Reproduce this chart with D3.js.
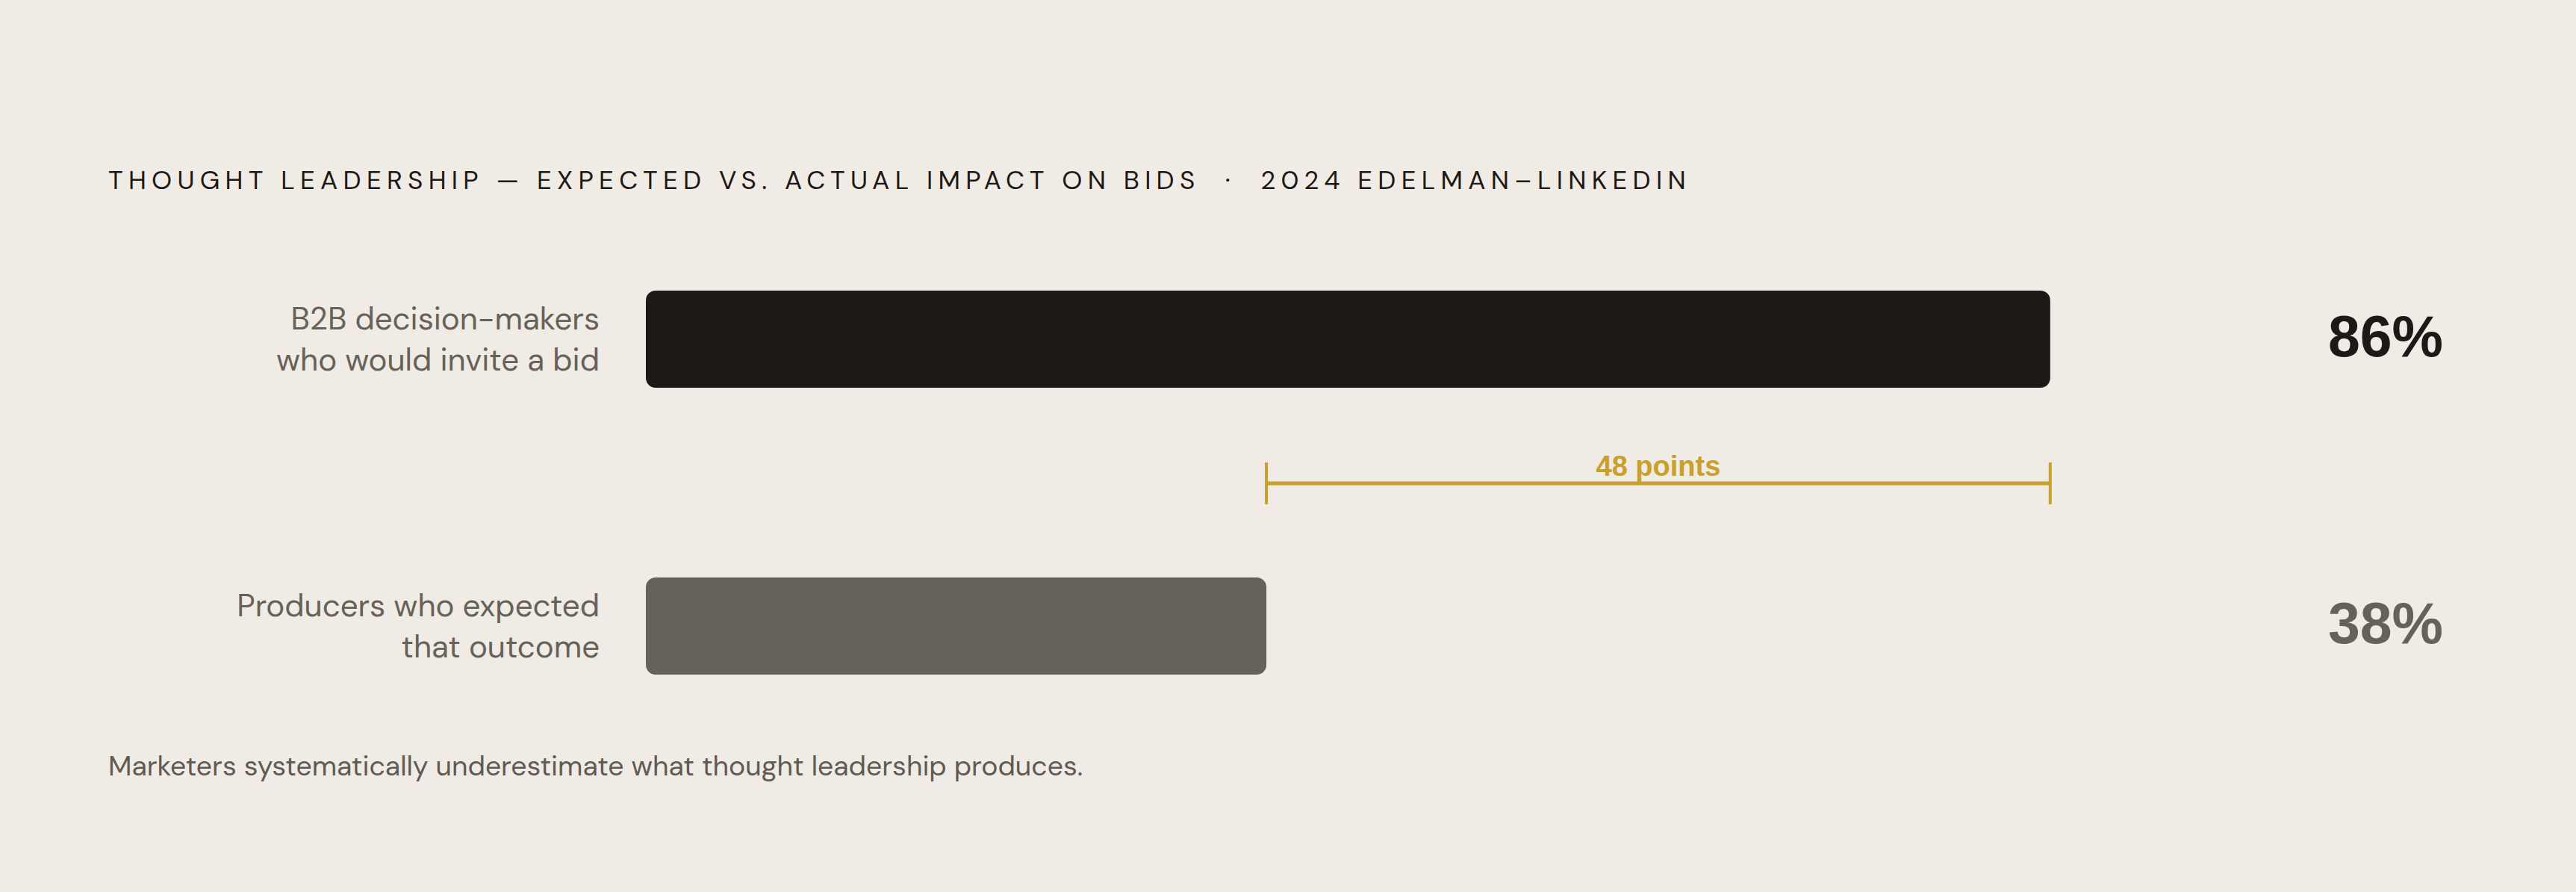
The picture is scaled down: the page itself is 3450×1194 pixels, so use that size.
<!DOCTYPE html>
<html>
<head>
<meta charset="utf-8">
<script src="https://cdn.jsdelivr.net/npm/d3@7"></script>
<style>
  html, body { margin: 0; padding: 0; background: #f0ebe4; }
  svg { display: block; }
</style>
</head>
<body>
<svg id="chart" width="3450" height="1194"></svg>
<script>
const titleText = "THOUGHT LEADERSHIP \u2014 EXPECTED VS. ACTUAL IMPACT ON BIDS  \u00B7  2024 EDELMAN\u2013LINKEDIN";
const categories = ["actual", "expected"];
const labelLines = [
  ["B2B decision-makers", "who would invite a bid"],
  ["Producers who expected", "that outcome"]
];
const values = [86, 38];
const valueLabels = ["86%", "38%"];
const gapLabel = "48 points";
const footnote = "Marketers systematically underestimate what thought leadership produces.";

const W = 3450, H = 1194;
const svg = d3.select("#chart");
svg.append("rect").attr("width", W).attr("height", H).attr("fill", "#f0ebe4");

const barColors = ["#1c1916", "#66625a"];
const valueColors = ["#1c1916", "#66625a"];
const gold = "#c9a02c";
const labelFont = "'DM Sans', Inter, 'Open Sans', sans-serif";
const numFont = "'Liberation Sans', Arial, sans-serif";

const x = d3.scaleLinear().domain([0, 100]).range([865, 3052]);
const y = d3.scalePoint().domain(categories).range([454, 838]);
const barH = 130;

// Title
svg.append("text")
  .attr("x", 145).attr("y", 253)
  .attr("font-family", labelFont)
  .attr("font-size", 35)
  .attr("letter-spacing", "7.3px")
  .attr("fill", "#1c1916")
  .attr("xml:space", "preserve")
  .style("white-space", "pre")
  .text(titleText);

// Bars
svg.selectAll("rect.bar")
  .data(categories)
  .join("rect")
  .attr("class", "bar")
  .attr("x", x(0))
  .attr("y", d => y(d) - barH / 2)
  .attr("width", (d, i) => x(values[i]) - x(0))
  .attr("height", barH)
  .attr("rx", 13)
  .attr("fill", (d, i) => barColors[i]);

// Category labels
categories.forEach((c, i) => {
  const t = svg.append("text")
    .attr("x", 803)
    .attr("text-anchor", "end")
    .attr("font-family", labelFont)
    .attr("font-size", 42)
    .attr("fill", "#66625a");
  labelLines[i].forEach((line, j) => {
    t.append("tspan")
      .attr("x", 803)
      .attr("y", y(c) - 13 + j * 55)
      .text(line);
  });
});

// Value labels
svg.selectAll("text.val")
  .data(categories)
  .join("text")
  .attr("class", "val")
  .attr("x", 3272)
  .attr("y", d => y(d) + 23)
  .attr("text-anchor", "end")
  .attr("font-family", numFont)
  .attr("font-weight", "bold")
  .attr("font-size", 77)
  .attr("fill", (d, i) => valueColors[i])
  .text((d, i) => valueLabels[i]);

// Gap annotation
const gy = (y(categories[0]) + y(categories[1])) / 2 + 1;
const x1 = x(values[1]), x2 = x(values[0]);
const g = svg.append("g").attr("stroke", gold);
g.append("line").attr("x1", x1).attr("x2", x2).attr("y1", gy).attr("y2", gy).attr("stroke-width", 5);
[x1, x2].forEach(xx => {
  g.append("line").attr("x1", xx).attr("x2", xx).attr("y1", gy - 28).attr("y2", gy + 28).attr("stroke-width", 4);
});
svg.append("text")
  .attr("x", (x1 + x2) / 2)
  .attr("y", gy - 10)
  .attr("text-anchor", "middle")
  .attr("font-family", numFont)
  .attr("font-weight", "bold")
  .attr("font-size", 38)
  .attr("fill", gold)
  .text(gapLabel);

// Footnote
svg.append("text")
  .attr("x", 145).attr("y", 1038)
  .attr("font-family", labelFont)
  .attr("font-size", 37.4)
  .attr("fill", "#5f5b54")
  .text(footnote);
</script>
</body>
</html>
